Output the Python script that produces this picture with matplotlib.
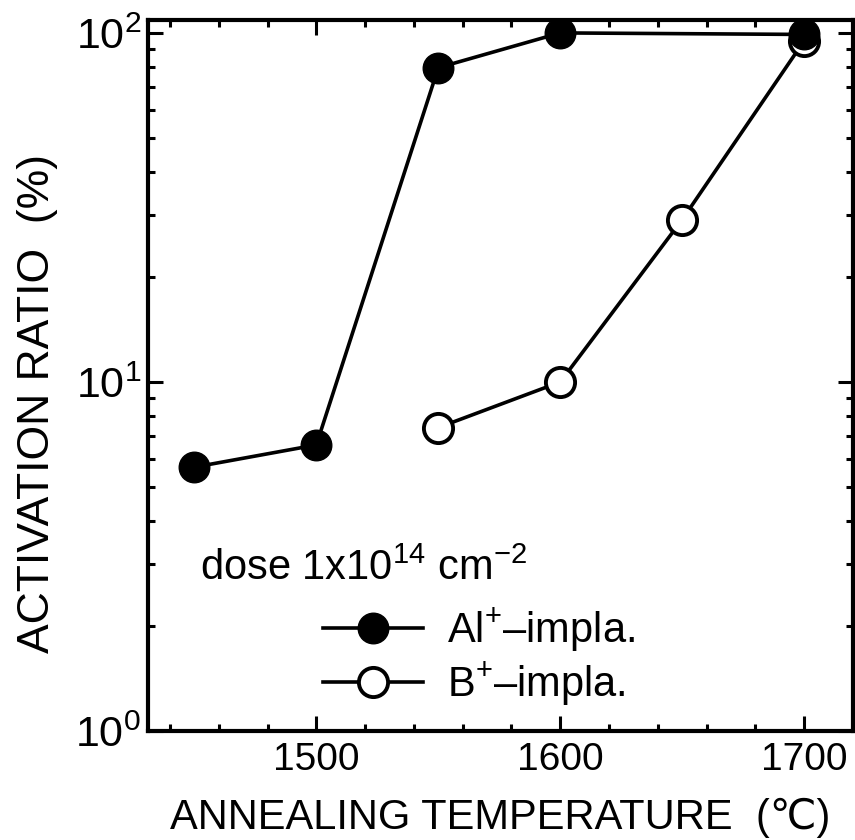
import numpy as np
import matplotlib
matplotlib.use('Agg')
import matplotlib.pyplot as plt
from matplotlib.ticker import LogLocator, MultipleLocator

# Data
al_temp = [1450, 1500, 1550, 1600, 1700]
al_ratio = [5.7, 6.6, 79.5, 100, 99]
b_temp = [1550, 1600, 1650, 1700]
b_ratio = [7.4, 10.0, 29.2, 95]

plt.rcParams['font.family'] = ['Liberation Sans', 'DejaVu Sans']
plt.rcParams['mathtext.fontset'] = 'custom'
plt.rcParams['mathtext.rm'] = 'Liberation Sans'
plt.rcParams['mathtext.it'] = 'Liberation Sans:italic'
plt.rcParams['mathtext.bf'] = 'Liberation Sans:bold'
plt.rcParams['mathtext.default'] = 'regular'

fig = plt.figure(figsize=(8.55, 8.4), dpi=100)
ax = fig.add_axes([0.1731, 0.1298, 0.8246, 0.8464])

ax.plot(b_temp, b_ratio, color='black', lw=2.6, marker='o', ms=21,
        mfc='white', mec='black', mew=2.8, label='B$^{+}$–impla.', zorder=3)
ax.plot(al_temp, al_ratio, color='black', lw=2.6, marker='o', ms=22,
        mfc='black', mec='black', label='Al$^{+}$–impla.', zorder=4)

ax.set_yscale('log')
ax.set_xlim(1431, 1720)
ax.set_ylim(1, 108.9)

ax.xaxis.set_major_locator(MultipleLocator(100))
ax.xaxis.set_minor_locator(MultipleLocator(20))
ax.yaxis.set_major_locator(LogLocator(base=10, numticks=5))
ax.yaxis.set_minor_locator(LogLocator(base=10, subs=np.arange(2, 10), numticks=20))

ax.tick_params(which='both', direction='in', top=True, right=True, width=2.2)
ax.tick_params(which='major', length=11)
ax.tick_params(which='minor', length=5)
ax.tick_params(axis='x', which='major', labelsize=28, pad=8)
ax.tick_params(axis='y', which='major', labelsize=31, pad=5)
for s in ax.spines.values():
    s.set_linewidth(3)

ax.set_xlabel('ANNEALING TEMPERATURE  (℃)', fontsize=30, labelpad=14)
ax.set_ylabel('ACTIVATION RATIO  (%)', fontsize=32)
ax.yaxis.set_label_coords(-0.128, 0.46)

ax.text(0.074, 0.2124, 'dose 1x10$^{14}$ cm$^{-2}$', fontsize=30,
        va='baseline', transform=ax.transAxes)

h, l = ax.get_legend_handles_labels()
ax.legend(h[::-1], l[::-1], loc='center left', bbox_to_anchor=(0.248, 0.1035),
          frameon=False, fontsize=30, handlelength=2.4, handletextpad=0.58,
          labelspacing=0.15, borderpad=0, borderaxespad=0)

plt.savefig('out.png', dpi=100)
plt.close()
